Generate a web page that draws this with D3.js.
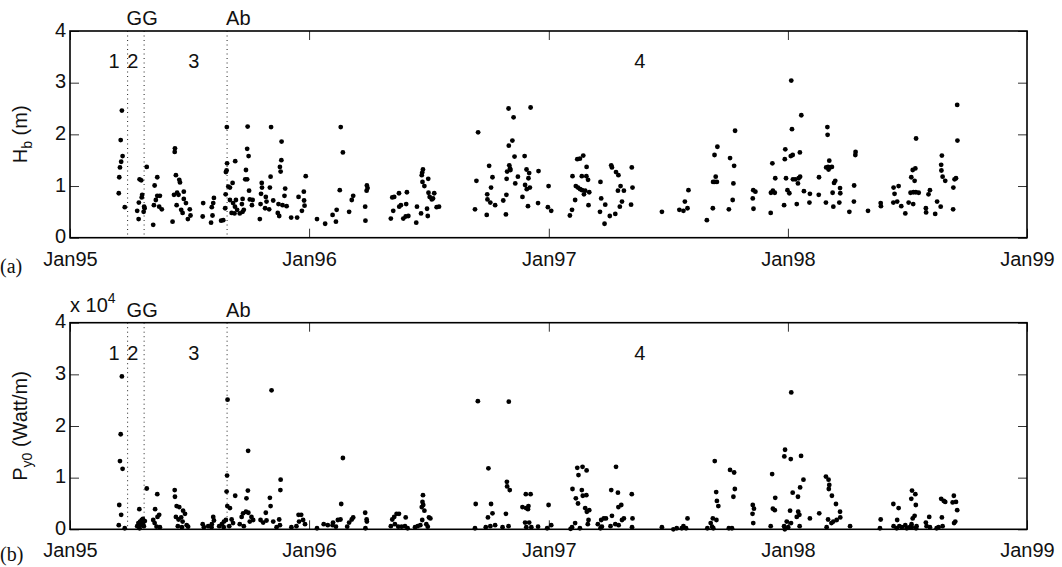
<!DOCTYPE html>
<html>
<head>
<meta charset="utf-8">
<script src="https://cdn.jsdelivr.net/npm/d3@7"></script>
<style>
  html, body { margin: 0; padding: 0; background: #fff; }
  svg { display: block; }
  text { font-family: "Liberation Sans", Arial, Helvetica, sans-serif; fill: #111; }
</style>
</head>
<body>
<svg id="chart" width="1062" height="567"></svg>
<script>
// ---------- data (dates as decimal years) ----------
const hbDates = [
1995.217,1995.212,1995.220,1995.214,1995.209,1995.206,1995.204,1995.229,
1995.291,1995.298,1995.302,1995.300,1995.288,1995.281,1995.287,1995.308,1995.310,1995.312,1995.321,
1995.365,1995.354,1995.376,1995.365,1995.359,1995.351,1995.373,1995.384,1995.348,
1995.439,1995.438,1995.443,1995.457,1995.460,1995.435,1995.448,1995.454,1995.476,1995.446,1995.476,1995.485,
1995.465,1995.471,1995.501,1995.504,1995.493,1995.429,
1995.557,1995.555,1995.602,1995.599,1995.593,1995.590,1995.596,1995.632,1995.641,
1995.656,1995.657,1995.655,1995.652,1995.662,1995.669,1995.651,1995.680,1995.691,1995.649,1995.669,1995.682,
1995.694,1995.690,1995.676,1995.688,1995.699,1995.710,1995.722,1995.727,1995.719,1995.722,
1995.743,1995.741,1995.747,1995.736,1995.733,1995.741,1995.749,1995.752,1995.764,1995.761,
1995.799,1995.802,1995.803,1995.797,1995.816,1995.822,1995.819,1995.833,1995.841,1995.836,1995.794,1995.850,1995.839,
1995.885,1995.884,1995.878,1995.881,1995.900,1995.897,1995.872,1995.889,1995.906,1995.869,1995.875,1995.925,1995.950,
1995.986,1995.978,1995.956,1995.979,1995.981,1995.970,
1996.033,1996.067,1996.098,1996.115,1996.112,1996.132,1996.141,1996.128,1996.167,1996.178,1996.184,
1996.234,1996.235,1996.240,1996.244,1996.241,1996.341,
1996.347,1996.355,1996.375,1996.351,1996.376,1996.383,1996.405,1996.408,1996.393,1996.403,1996.414,
1996.447,1996.450,1996.467,1996.492,1996.495,1996.475,1996.472,1996.470,1996.497,1996.473,1996.481,1996.498,
1996.522,1996.503,1996.512,1996.517,1996.532,1996.542,
1996.692,1996.698,1996.705,1996.741,1996.743,1996.751,1996.765,1996.759,1996.744,1996.756,1996.776,
1996.810,1996.823,1996.821,1996.832,1996.924,1996.853,1996.848,1996.833,1996.857,1996.899,1996.835,1996.838,
1996.826,1996.824,1996.840,1996.871,1996.860,1996.907,1996.918,1996.915,1996.901,1996.908,1996.921,1996.890,
1996.913,1996.957,1996.955,1996.999,1996.996,1997.010,
1997.088,1997.097,1997.110,1997.099,1997.119,1997.130,1997.144,1997.158,1997.138,1997.157,1997.164,1997.113,
1997.122,1997.131,1997.139,1997.152,1997.169,1997.147,1997.166,
1997.216,1997.219,1997.236,1997.214,1997.233,1997.255,1997.278,1997.261,1997.264,1997.281,1997.291,1997.300,
1997.289,1997.314,1997.306,1997.297,1997.347,1997.350,1997.344,1997.473,
1997.546,1997.563,1997.569,1997.580,1997.584,1997.661,1997.686,1997.687,1997.694,1997.703,1997.698,1997.693,1997.705,
1997.753,1997.769,1997.772,1997.758,1997.775,1997.779,1997.853,1997.855,1997.864,1997.856,
1997.928,1997.929,1997.937,1997.945,1997.935,1997.947,1997.984,1997.989,1997.987,1997.992,1997.998,1998.006,
1998.012,1998.020,1998.014,1998.017,1998.021,1998.031,1998.045,1998.051,1998.042,1998.050,1998.037,1998.056,
1998.067,1998.092,1998.090,1998.130,1998.129,1998.159,1998.165,1998.166,1998.173,1998.160,1998.168,1998.176,
1998.184,1998.170,1998.198,1998.193,1998.187,1998.190,1998.218,1998.219,1998.215,1998.257,1998.276,1998.277,
1998.283,1998.282,1998.335,1998.388,1998.389,
1998.441,1998.442,1998.463,1998.446,1998.457,1998.474,1998.491,1998.505,1998.524,1998.513,1998.525,1998.535,
1998.547,1998.516,1998.530,1998.522,1998.533,1998.536,1998.577,1998.578,1998.594,1998.588,1998.616,1998.624,
1998.639,1998.644,1998.641,1998.642,1998.647,1998.658,1998.691,1998.692,1998.697,1998.703,1998.708,1998.709
];
const hbValues = [
2.46,1.89,1.58,1.47,1.36,1.17,0.86,0.59,
1.13,1.11,0.83,0.78,0.68,0.52,0.36,0.50,0.60,0.57,1.37,
1.17,1.01,0.81,0.81,0.73,0.63,0.60,0.55,0.25,
1.73,1.66,1.21,1.12,1.07,0.83,0.87,0.83,0.89,0.63,0.75,0.67,
0.54,0.48,0.55,0.43,0.36,0.31,
0.67,0.41,0.77,0.67,0.59,0.29,0.43,0.33,0.34,
2.14,1.44,1.30,1.27,0.99,0.97,0.84,1.06,1.48,0.57,0.73,0.67,
0.73,0.60,0.48,0.47,0.54,0.47,0.50,0.54,0.65,0.75,
2.15,1.72,1.58,1.31,1.13,1.13,0.91,0.74,0.73,0.63,
0.85,1.06,0.97,0.65,0.57,0.70,0.79,0.55,2.14,0.97,0.36,0.72,1.18,
1.86,1.50,1.37,1.28,0.95,0.81,0.65,0.63,0.61,0.48,0.42,0.39,0.39,
1.19,0.89,0.79,0.72,0.62,0.52,
0.36,0.27,0.44,0.54,0.31,2.14,1.65,0.92,0.50,0.73,0.81,
0.60,0.33,0.91,0.96,1.01,0.37,
0.78,0.79,0.86,0.52,0.60,0.63,0.65,0.88,0.37,0.41,0.42,
0.29,0.60,0.47,0.56,0.42,1.32,1.26,1.21,1.14,1.08,1.00,0.87,
0.86,0.79,0.74,0.76,0.59,0.60,
0.55,1.10,2.04,0.44,0.84,1.39,1.17,0.97,0.74,0.68,0.63,
0.72,0.83,0.45,2.50,2.52,2.33,1.88,1.78,1.57,1.58,1.40,1.34,
1.28,1.14,1.31,1.18,1.05,1.32,1.25,1.15,1.02,0.94,0.97,0.79,
0.61,1.29,0.67,1.00,0.59,0.52,
0.43,0.54,0.73,1.19,1.52,1.53,1.59,1.37,1.19,1.19,1.12,1.00,
0.97,0.94,0.92,0.91,0.88,0.84,0.63,
1.08,0.76,0.64,0.50,0.27,0.42,0.46,1.40,1.36,1.27,1.21,1.00,
0.91,0.91,0.70,0.60,1.36,0.97,0.64,0.50,
0.54,0.52,0.70,0.57,0.92,0.34,0.57,1.08,1.08,1.08,1.18,1.60,1.76,
0.55,0.73,1.05,1.54,1.39,2.07,0.76,0.92,0.89,0.56,
0.48,0.87,0.91,0.87,1.44,1.15,0.63,1.71,1.52,1.15,0.92,0.86,
1.58,1.60,3.04,2.10,1.13,1.13,1.15,1.18,1.05,1.65,0.65,2.37,
0.90,0.85,0.68,1.17,0.83,0.68,2.14,1.99,1.49,1.36,1.37,1.36,
1.37,1.32,1.10,1.06,0.87,0.60,0.96,0.86,0.68,0.50,0.70,1.01,
1.66,1.60,0.52,0.67,0.61,
0.68,0.97,1.00,0.85,0.70,0.61,0.47,0.68,0.65,0.87,0.88,0.88,
0.87,1.17,1.10,1.31,1.34,1.92,0.57,0.49,0.92,0.84,0.46,0.70,
0.60,1.59,1.41,1.30,1.18,1.10,0.55,0.97,1.13,1.15,2.57,1.88
];

// P_y0 in units of 10^4 Watt/m
const pyDates = [
1995.217,1995.212,1995.209,1995.220,1995.206,1995.214,1995.204,1995.229,
1995.321,1995.290,1995.365,1995.356,1995.438,1995.439,1995.446,1995.457,1995.473,1995.481,
1995.281,1995.293,1995.300,1995.306,1995.291,1995.309,1995.304,1995.286,1995.297,1995.313,1995.305,
1995.348,1995.354,1995.366,1995.373,1995.362,1995.376,
1995.443,1995.454,1995.465,1995.471,1995.488,1995.494,1995.451,1995.468,
1995.555,1995.560,1995.578,1995.599,1995.602,1995.593,1995.592,1995.624,1995.635,1995.644,1995.652,
1995.659,1995.657,1995.655,1995.658,1995.669,1995.691,1995.738,1995.744,1995.745,
1995.724,1995.736,1995.746,1995.718,1995.759,1995.766,1995.752,1995.710,1995.727,1995.676,1995.682,1995.666,1995.643,
1995.797,1995.808,1995.822,1995.819,1995.839,1995.836,1995.850,1995.864,1995.881,1995.880,1995.875,1995.878,1995.843,
1995.926,1995.956,1995.967,1995.958,1995.975,1995.983,1995.947,
1996.033,1996.061,1996.078,1996.098,1996.100,1996.112,1996.120,1996.131,1996.134,1996.141,
1996.167,1996.178,1996.184,1996.234,1996.240,1996.241,1996.235,1996.159,
1996.347,1996.355,1996.365,1996.375,1996.341,1996.358,1996.372,1996.386,1996.400,1996.403,1996.411,
1996.442,1996.453,1996.464,1996.472,1996.489,1996.495,1996.500,1996.506,
1996.475,1996.473,1996.476,1996.481,1996.470,
1996.695,1996.692,1996.704,1996.748,1996.759,1996.765,1996.746,1996.737,1996.756,1996.776,
1996.825,1996.826,1996.837,1996.821,1996.807,1996.832,1996.833,
1996.904,1996.924,1996.890,1996.905,1996.915,1996.913,1996.901,1996.918,1996.906,1996.927,1996.955,
1996.999,1997.010,1996.993,
1997.099,1997.119,1997.141,1997.158,1997.124,1997.138,1997.157,1997.142,1997.113,1997.122,1997.152,
1997.159,1997.169,1997.166,1997.163,1997.110,1997.097,1997.130,1997.091,
1997.205,1997.219,1997.230,1997.239,1997.222,1997.216,
1997.281,1997.261,1997.289,1997.303,1997.291,1997.264,1997.278,1997.292,1997.306,1997.314,1997.258,
1997.347,1997.350,1997.348,1997.473,
1997.563,1997.580,1997.556,1997.574,1997.521,1997.535,
1997.694,1997.700,1997.703,1997.709,1997.686,1997.701,1997.677,1997.683,1997.663,1997.688,
1997.758,1997.775,1997.778,1997.772,1997.753,1997.766,
1997.853,1997.858,1997.852,1997.855,1997.934,1997.947,1997.937,1997.945,1997.928,
1997.988,1997.985,1998.012,1998.055,1998.014,1998.065,1998.051,1998.042,1998.020,
1998.009,1998.043,1998.048,1998.037,1997.995,1998.013,1997.984,1998.001,1998.049,1997.987,
1998.092,1998.131,1998.159,1998.170,1998.173,1998.171,1998.184,1998.201,1998.218,1998.219,
1998.204,1998.190,1998.182,1998.168,1998.162,1998.260,
1998.388,1998.385,1998.441,1998.463,1998.457,1998.442,1998.466,1998.477,1998.491,1998.497,1998.510,1998.455,
1998.519,1998.533,1998.516,1998.535,1998.530,1998.522,1998.517,1998.538,1998.536,1998.518,
1998.577,1998.580,1998.591,1998.594,1998.622,1998.630,1998.644,1998.647,1998.641,1998.652,1998.658,
1998.694,1998.689,1998.703,1998.708,1998.700,1998.695
];
const pyValues = [
2.96,1.84,1.32,1.17,0.47,0.28,0.08,0.02,
0.79,0.39,0.68,0.39,0.76,0.63,0.45,0.43,0.36,0.30,
0.06,0.15,0.18,0.13,0.02,0.06,0.10,0.12,0.08,0.16,0.20,
0.18,0.12,0.24,0.28,0.05,0.04,
0.24,0.19,0.23,0.15,0.08,0.05,0.06,0.04,
0.10,0.04,0.06,0.24,0.17,0.10,0.04,0.06,0.10,0.15,0.18,
2.51,1.04,0.73,0.45,0.41,0.65,0.60,0.75,1.52,
0.31,0.34,0.32,0.24,0.24,0.18,0.15,0.10,0.06,0.19,0.12,0.06,0.04,
0.18,0.13,0.17,0.32,0.45,0.61,0.15,0.04,0.96,0.76,0.19,0.08,2.69,
0.04,0.28,0.28,0.15,0.18,0.10,0.06,
0.02,0.10,0.08,0.08,0.13,0.05,0.18,0.19,0.49,1.38,
0.13,0.19,0.23,0.32,0.19,0.15,0.02,0.05,
0.19,0.24,0.30,0.30,0.06,0.10,0.05,0.05,0.06,0.23,0.02,
0.04,0.06,0.08,0.18,0.10,0.05,0.23,0.21,
0.66,0.53,0.47,0.36,0.43,
0.49,0.02,2.48,1.18,0.49,0.31,0.23,0.04,0.06,0.08,
0.92,0.83,0.76,0.30,0.04,0.06,2.47,
0.68,0.68,0.43,0.41,0.45,0.39,0.13,0.13,0.04,0.04,0.05,
0.47,0.08,0.02,
0.78,1.19,1.21,1.14,1.05,0.76,0.66,0.65,0.60,0.50,0.41,
0.34,0.37,0.18,0.10,0.12,0.04,0.02,0.01,
0.10,0.18,0.21,0.21,0.05,0.02,
1.21,0.76,0.71,0.47,0.43,0.26,0.10,0.08,0.18,0.21,0.06,
0.68,0.21,0.04,0.04,
0.06,0.21,0.02,0.02,0.00,0.02,
1.32,0.72,0.55,0.45,0.21,0.18,0.12,0.05,0.02,0.02,
1.15,1.10,0.78,0.63,0.02,0.02,
0.47,0.40,0.30,0.12,1.07,0.61,0.40,0.37,0.06,
1.54,1.41,1.36,1.42,2.65,0.96,0.81,0.63,0.71,
0.36,0.34,0.28,0.24,0.15,0.12,0.06,0.04,0.06,0.00,
0.21,0.31,1.02,0.96,0.86,0.78,0.65,0.49,0.34,0.23,
0.18,0.15,0.12,0.19,0.04,0.06,
0.19,0.02,0.49,0.41,0.18,0.06,0.06,0.04,0.08,0.02,0.04,0.02,
0.75,0.68,0.59,0.47,0.26,0.21,0.10,0.06,0.02,0.04,
0.13,0.06,0.24,0.04,0.02,0.04,0.23,0.06,0.59,0.55,0.53,
0.65,0.52,0.53,0.37,0.15,0.12
];

const yearTicks = [1995, 1996, 1997, 1998, 1999];
const yTicks = [0, 1, 2, 3, 4];
const eventDates = [1995.241, 1995.310, 1995.657];   // dotted vertical lines
const eventLabels = [{t: 1995.241, text: "GG"}, {t: 1995.657, text: "Ab"}];
const phaseLabels = [
  {t: 1995.184, text: "1"}, {t: 1995.263, text: "2"},
  {t: 1995.518, text: "3"}, {t: 1997.381, text: "4"}
];

// ---------- helpers ----------
function decYear(v) {
  const y = Math.floor(v);
  const s = Date.UTC(y, 0, 1), e = Date.UTC(y + 1, 0, 1);
  return new Date(s + (v - y) * (e - s));
}

const svg = d3.select("#chart");
const FONT = 20;
const X0 = 70, X1 = 1027;

const x = d3.scaleUtc()
  .domain([decYear(1995), decYear(1999)])
  .range([X0, X1]);

const panels = [
  { top: 31, bottom: 237.7, dates: hbDates, values: hbValues, tag: "(a)", tagY: 273, label: "hb" },
  { top: 322.7, bottom: 529.3, dates: pyDates, values: pyValues, tag: "(b)", tagY: 561, label: "py" }
];

panels.forEach(p => {
  const y = d3.scaleLinear().domain([0, 4]).range([p.bottom, p.top]);
  const g = svg.append("g");

  // dotted event lines
  g.selectAll("line.ev").data(eventDates).join("line")
    .attr("x1", d => x(decYear(d))).attr("x2", d => x(decYear(d)))
    .attr("y1", p.top).attr("y2", p.bottom)
    .attr("stroke", "#222").attr("stroke-width", 1)
    .attr("stroke-dasharray", "1,3.5");

  // axes (ticks inside)
  const tickFmt = d3.utcFormat("%b%y");
  const xb = d3.axisBottom(x).tickValues(yearTicks.map(decYear))
    .tickSizeInner(-9).tickSizeOuter(0).tickPadding(14).tickFormat(tickFmt);
  const xt = d3.axisTop(x).tickValues(yearTicks.map(decYear))
    .tickSizeInner(-9).tickSizeOuter(0).tickFormat("");
  const yl = d3.axisLeft(y).tickValues(yTicks)
    .tickSizeInner(-9).tickSizeOuter(0).tickPadding(4).tickFormat(d3.format("d"));
  const yr = d3.axisRight(y).tickValues(yTicks)
    .tickSizeInner(-9).tickSizeOuter(0).tickFormat("");

  [[xb, `translate(0,${p.bottom})`, "x"], [xt, `translate(0,${p.top})`, "x"],
   [yl, `translate(${X0},0)`, "y"], [yr, `translate(${X1},0)`, "y"]].forEach(([ax, tr, kind]) => {
    const a = g.append("g").attr("transform", tr).call(ax);
    a.select(".domain").remove();
    a.selectAll(".tick line").attr("stroke", "#333").attr("stroke-width", 1);
    a.selectAll("text").attr("font-size", FONT)
      .attr("font-family", '"Liberation Sans", Arial, sans-serif').attr("fill", "#111");
    if (kind === "y") a.selectAll("text").attr("dy", "0.26em");
  });

  // frame
  g.append("rect").attr("x", X0).attr("y", p.top)
    .attr("width", X1 - X0).attr("height", p.bottom - p.top)
    .attr("fill", "none").attr("stroke", "#000").attr("stroke-width", 1.6);

  // points
  g.selectAll("circle").data(p.dates.map((d, i) => [d, p.values[i]])).join("circle")
    .attr("cx", d => x(decYear(d[0]))).attr("cy", d => y(d[1]))
    .attr("r", 2.4).attr("fill", "#000");

  // event labels above panel
  g.selectAll("text.ev").data(eventLabels).join("text").attr("class", "ev")
    .attr("x", d => x(decYear(d.t)) - 1).attr("y", p.top - 6)
    .attr("font-size", FONT).text(d => d.text);

  // phase labels
  g.selectAll("text.ph").data(phaseLabels).join("text").attr("class", "ph")
    .attr("x", d => x(decYear(d.t))).attr("y", p.top + 37)
    .attr("text-anchor", "middle").attr("font-size", FONT).text(d => d.text);

  // panel tag
  g.append("text").attr("x", 0).attr("y", p.tagY)
    .style("font-family", '"Liberation Serif", "Times New Roman", serif')
    .attr("font-size", 20).text(p.tag);

  // y label
  const cy = (p.top + p.bottom) / 2;
  const lab = g.append("text")
    .attr("transform", `translate(27,${cy}) rotate(-90)`)
    .attr("text-anchor", "middle").attr("font-size", FONT);
  if (p.label === "hb") {
    lab.append("tspan").text("H");
    lab.append("tspan").attr("font-size", 14).attr("dy", 5).text("b");
    lab.append("tspan").attr("dy", -5).text(" (m)");
  } else {
    lab.append("tspan").text("P");
    lab.append("tspan").attr("font-size", 14).attr("dy", 5).text("y0");
    lab.append("tspan").attr("dy", -5).text(" (Watt/m)");
  }
});

// exponent label for lower panel
const ex = svg.append("text").attr("x", 70).attr("y", 312).attr("font-size", FONT);
ex.append("tspan").text("x 10");
ex.append("tspan").attr("font-size", 14).attr("dy", -9).text("4");
</script>
</body>
</html>
